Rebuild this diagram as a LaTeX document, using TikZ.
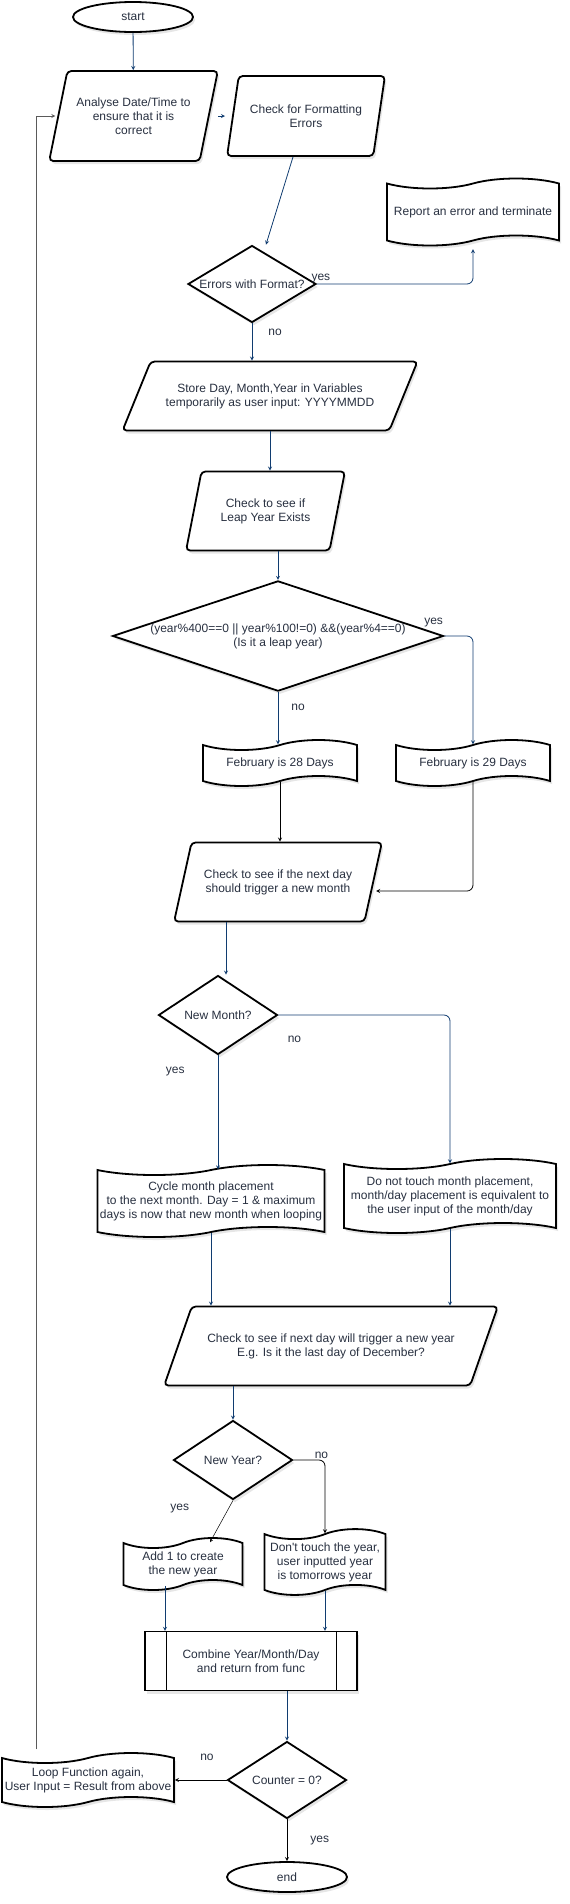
\documentclass[tikz,border=0pt]{standalone}
\usepackage{fontspec}
\setmainfont{Liberation Sans}
\usetikzlibrary{positioning,shapes.geometric,shapes.symbols,shadows}
\definecolor{flowblue}{RGB}{16,60,112}
\definecolor{txt}{RGB}{40,48,64}
\definecolor{loopgray}{RGB}{90,90,90}

\begin{document}
\begin{tikzpicture}[x=1pt,y=-1pt,
  font=\fontsize{12}{14}\selectfont, text=txt,
  shdw/.style={drop shadow={opacity=0.2,shadow xshift=2pt,shadow yshift=-3pt}},
  term/.style={ellipse,draw,line width=1.8pt,fill=white,shdw,minimum width=120pt,minimum height=30pt,inner sep=0pt},
  io/.style={trapezium,trapezium stretches=true,draw,line width=1.8pt,rounded corners=4pt,fill=white,shdw,align=center,inner sep=1pt},
  ask/.style={diamond,draw,line width=1.8pt,fill=white,shdw,align=center,inner sep=0pt},
  doc/.style={tape,draw,line width=1.8pt,fill=white,shdw,align=center,inner xsep=2pt,tape bend height=10pt},
  flow/.style={-stealth,flowblue,line width=0.8pt},
  blk/.style={-stealth,black,line width=0.8pt},
  lbl/.style={text=txt,inner sep=1pt}]
  \useasboundingbox (0,0) rectangle (570,1904);

  \node[term] (start) at (133,17) {start};
  \node[io,trapezium left angle=67.6,trapezium right angle=112.4,minimum width=169pt,minimum height=90pt] (an) at (133.5,116) {Analyse Date/Time to\\ensure that it is\\correct};
  \node[io,trapezium left angle=68.2,trapezium right angle=111.8,minimum width=158pt,minimum height=80pt] (chk) at (306,116) {Check for Formatting\\Errors};
  \node[ask,minimum width=128pt,minimum height=77pt,aspect=1.66] (err) at (252,284) {Errors with Format?};
  \node[doc,minimum width=172pt,minimum height=67pt] (rep) at (473,212) {Report an error and terminate};
  \node[io,trapezium left angle=47.6,trapezium right angle=132.4,minimum width=296pt,minimum height=69pt] (st) at (270,396) {Store Day, Month,Year in Variables\\temporarily as user input: YYYYMMDD};
  \node[io,trapezium left angle=67.9,trapezium right angle=112.1,minimum width=159pt,minimum height=79pt] (lp) at (265.5,511) {Check to see if\\Leap Year Exists};
  \node[ask,minimum width=325pt,minimum height=109pt,aspect=3] (leap) at (278,636) {(year\%400==0 || year\%100!=0) \&\&(year\%4==0)\\(Is it a leap year)};
  \node[doc,minimum width=154pt,minimum height=46pt] (f28) at (280,763) {February is 28 Days};
  \node[doc,minimum width=154pt,minimum height=46pt] (f29) at (473,763) {February is 29 Days};
  \node[io,trapezium left angle=60.9,trapezium right angle=119.1,minimum width=208pt,minimum height=79pt] (nd) at (278,882) {Check to see if the next day\\should trigger a new month};
  \node[ask,minimum width=119pt,minimum height=79pt,aspect=1.5] (nm) at (218,1015) {New Month?};
  \node[doc,minimum width=227pt,minimum height=72pt] (cyc) at (211,1201) {Cycle month placement\\to the next month. Day = 1 \& maximum\\days is now that new month when looping};
  \node[doc,minimum width=212pt,minimum height=74pt] (dn) at (450,1196) {Do not touch month placement,\\month/day placement is equivalent to\\the user input of the month/day};
  \node[io,trapezium left angle=47.7,trapezium right angle=132.3,minimum width=334pt,minimum height=79pt] (nyc) at (331,1346) {Check to see if next day will trigger a new year\\E.g. Is it the last day of December?};
  \node[ask,minimum width=119pt,minimum height=79pt,aspect=1.5] (ny) at (233,1460) {New Year?};
  \node[doc,minimum width=119pt,minimum height=52pt] (add) at (183,1564) {Add 1 to create\\the new year};
  \node[doc,minimum width=121pt,minimum height=57pt] (keep) at (325,1562) {Don\textquotesingle t touch the year,\\user inputted year\\is tomorrows year};
  \node[draw,line width=1.3pt,fill=white,shdw,align=center,minimum width=212pt,minimum height=59pt] (cmb) at (251,1661) {Combine Year/Month/Day\\and return from func};
  \draw[line width=1pt] ([xshift=22pt]cmb.north west) -- ([xshift=22pt]cmb.south west);
  \draw[line width=1pt] ([xshift=-21pt]cmb.north east) -- ([xshift=-21pt]cmb.south east);
  \node[ask,minimum width=119pt,minimum height=77pt,aspect=1.55] (cnt) at (287,1780) {Counter = 0?};
  \node[term] (end) at (287,1877) {end};
  \node[doc,minimum width=172pt,minimum height=54pt] (loop) at (88,1780) {Loop Function again,\\User Input = Result from above};

  %start>an
  \draw[flow] (start) -- (an);
  \draw[flow,shorten <=84.5pt,shorten >=81pt] (an.center) -- (chk.center);
  \draw[flow] ([xshift=-13pt]chk.south) -- ([xshift=14pt]err.north);
  %err>rep, err>st
  \draw[flow,rounded corners=6pt] (err.east) -| node[pos=0,anchor=south,xshift=4pt,lbl] {yes} ([yshift=-8pt]rep.south);
  \draw[flow] (err.south) -- node[pos=0.23,right=15pt,lbl] {no} (err.south |- st.north);
  \draw[flow] (st.center |- st.south) -- (st.center |- lp.north);
  \draw[flow] (leap.north |- lp.south) -- (leap.north);
  %leap>f29, leap>f28
  \draw[flow,rounded corners=6pt] (leap.east) -| node[pos=0,anchor=south east,yshift=8pt,lbl] {yes} (f29.north);
  \draw[flow] (leap.south) -- node[pos=0.3,right=12pt,lbl] {no} (leap.south |- f28.north);
  \draw[blk] (f28.south) -- (f28.south |- nd.north);
  \draw[blk,rounded corners=6pt] (f29.south) |- ([xshift=2pt,yshift=-9pt]nd.east);
  \draw[flow] ([xshift=8pt]nm.north |- nd.south) -- ([xshift=8pt]nm.north);
  %nm>dn, nm>cyc
  \draw[flow,rounded corners=6pt] (nm.east) -| node[pos=0,anchor=north west,xshift=8pt,yshift=-20pt,lbl] {no} (dn.north);
  \draw[flow] (nm.south) -- node[pos=0.14,left=32pt,lbl] {yes} (nm.south |- cyc.north);
  \draw[flow] (cyc.south) -- (cyc.south |- nyc.north);
  \draw[flow] (dn.south) -- (dn.south |- nyc.north);
  \draw[flow] (ny.north |- nyc.south) -- (ny.north);
  %ny>keep, ny>add
  \draw[blk,rounded corners=6pt] (ny.east) -| node[pos=0,anchor=south west,xshift=20pt,lbl] {no} (keep.north);
  \draw[blk,line width=0.5pt] (ny.south) -- node[pos=0.2,left=38pt,lbl] {yes} ([xshift=27pt]add.north);
  \draw[flow] ([xshift=-18pt]add.south) -- ([xshift=-18pt]add.south |- cmb.north);
  \draw[flow] (keep.south) -- (keep.south |- cmb.north);
  \draw[flow] (cnt.north |- cmb.south) -- (cnt.north);
  %cnt>loop, cnt>end
  \draw[blk] (cnt.west) -- node[pos=0.38,above=18pt,lbl] {no} (loop.east);
  \draw[blk] (cnt.south) -- node[midway,right=22pt,lbl] {yes} (end.north);
  \draw[-stealth,loopgray,line width=0.8pt] ([xshift=-52pt,yshift=8pt]loop.north) |- ([xshift=-2pt]an.west);
\end{tikzpicture}
\end{document}
